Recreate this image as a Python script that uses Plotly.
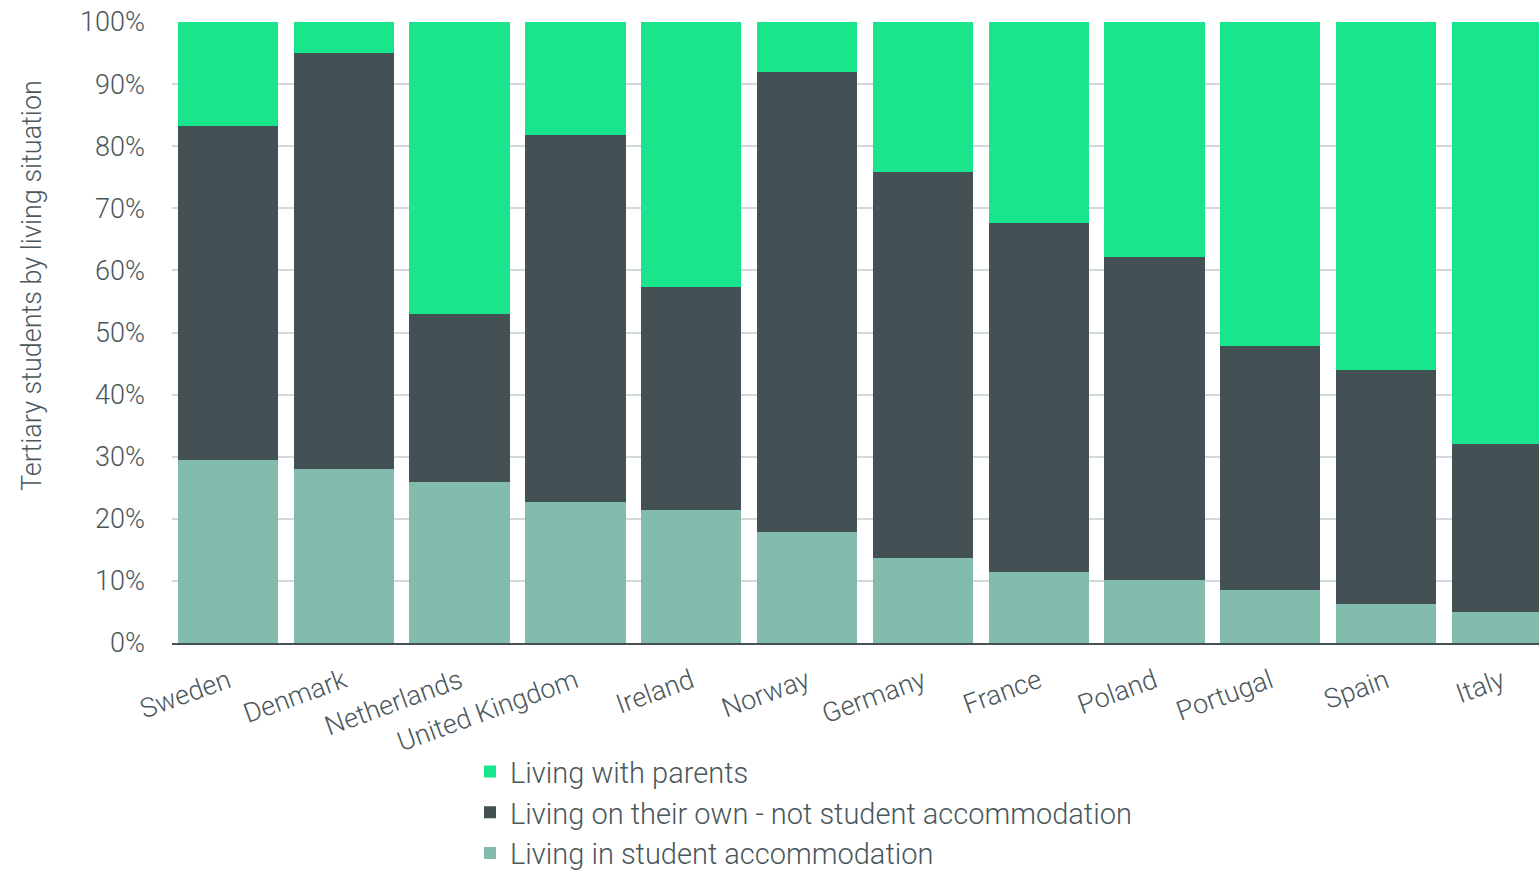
import plotly.graph_objects as go

countries = ["Sweden", "Denmark", "Netherlands", "United Kingdom", "Ireland", "Norway",
             "Germany", "France", "Poland", "Portugal", "Spain", "Italy"]
student_accom = [29.5, 28.0, 25.9, 22.7, 21.4, 17.9, 13.7, 11.4, 10.1, 8.5, 6.3, 5.0]
own_not_student = [53.8, 67.0, 27.1, 59.1, 35.9, 74.0, 62.1, 56.2, 52.1, 39.3, 37.7, 27.0]
with_parents = [16.7, 5.0, 47.0, 18.2, 42.7, 8.1, 24.2, 32.4, 37.8, 52.2, 56.0, 68.0]
y_ticks = [0, 10, 20, 30, 40, 50, 60, 70, 80, 90, 100]
y_tick_labels = [f"{v}%" for v in y_ticks]

C_PARENTS = "#19E68C"
C_OWN = "#435155"
C_STUDENT = "#82BCAD"
TXT = "#4a575b"
FONT = "Roboto"

x_idx = list(range(len(countries)))

fig = go.Figure()
fig.add_trace(go.Bar(x=x_idx, y=student_accom, name="Living in student accommodation",
                     marker=dict(color=C_STUDENT, line=dict(width=0))))
fig.add_trace(go.Bar(x=x_idx, y=own_not_student, name="Living on their own - not student accommodation",
                     marker=dict(color=C_OWN, line=dict(width=0))))
fig.add_trace(go.Bar(x=x_idx, y=with_parents, name="Living with parents",
                     marker=dict(color=C_PARENTS, line=dict(width=0))))

fig.update_layout(
    barmode="stack",
    bargap=0.134,
    width=1539, height=881,
    margin=dict(l=172, r=0, t=22, b=238, autoexpand=False),
    plot_bgcolor="white", paper_bgcolor="white",
    font=dict(family=FONT, color=TXT, weight=300),
    showlegend=True,
    legend=dict(
        x=0.218, xref="paper", y=0.153, yref="container",
        xanchor="left", yanchor="top",
        orientation="v", traceorder="reversed",
        font=dict(size=29, family=FONT, color=TXT, weight=300),
        tracegroupgap=0, itemwidth=30,
        bgcolor="rgba(0,0,0,0)",
    ),
    xaxis=dict(
        tickmode="array", tickvals=x_idx, ticktext=countries,
        range=[-0.4836, 11.32],
        tickangle=-20,
        tickfont=dict(size=27, family=FONT, color=TXT, weight=300),
        showgrid=False, zeroline=False,
        showline=True, linecolor=C_OWN, linewidth=2,
        ticks="", ticklabelstandoff=10,
    ),
    yaxis=dict(
        range=[0, 100],
        tickmode="array", tickvals=y_ticks, ticktext=y_tick_labels,
        tickfont=dict(size=27, family=FONT, color=TXT, weight=300),
        showgrid=True, gridcolor="#d3d8da", gridwidth=2,
        zeroline=False, showline=False, ticks="",
        ticklabelstandoff=26,
    ),
    annotations=[dict(
        text="Tertiary students by living situation",
        xref="paper", yref="paper",
        x=-0.1024, y=0.575, xanchor="center", yanchor="middle",
        textangle=-90, showarrow=False,
        font=dict(size=27, family=FONT, color=TXT, weight=300),
    )],
)

fig.write_html("out.html")
